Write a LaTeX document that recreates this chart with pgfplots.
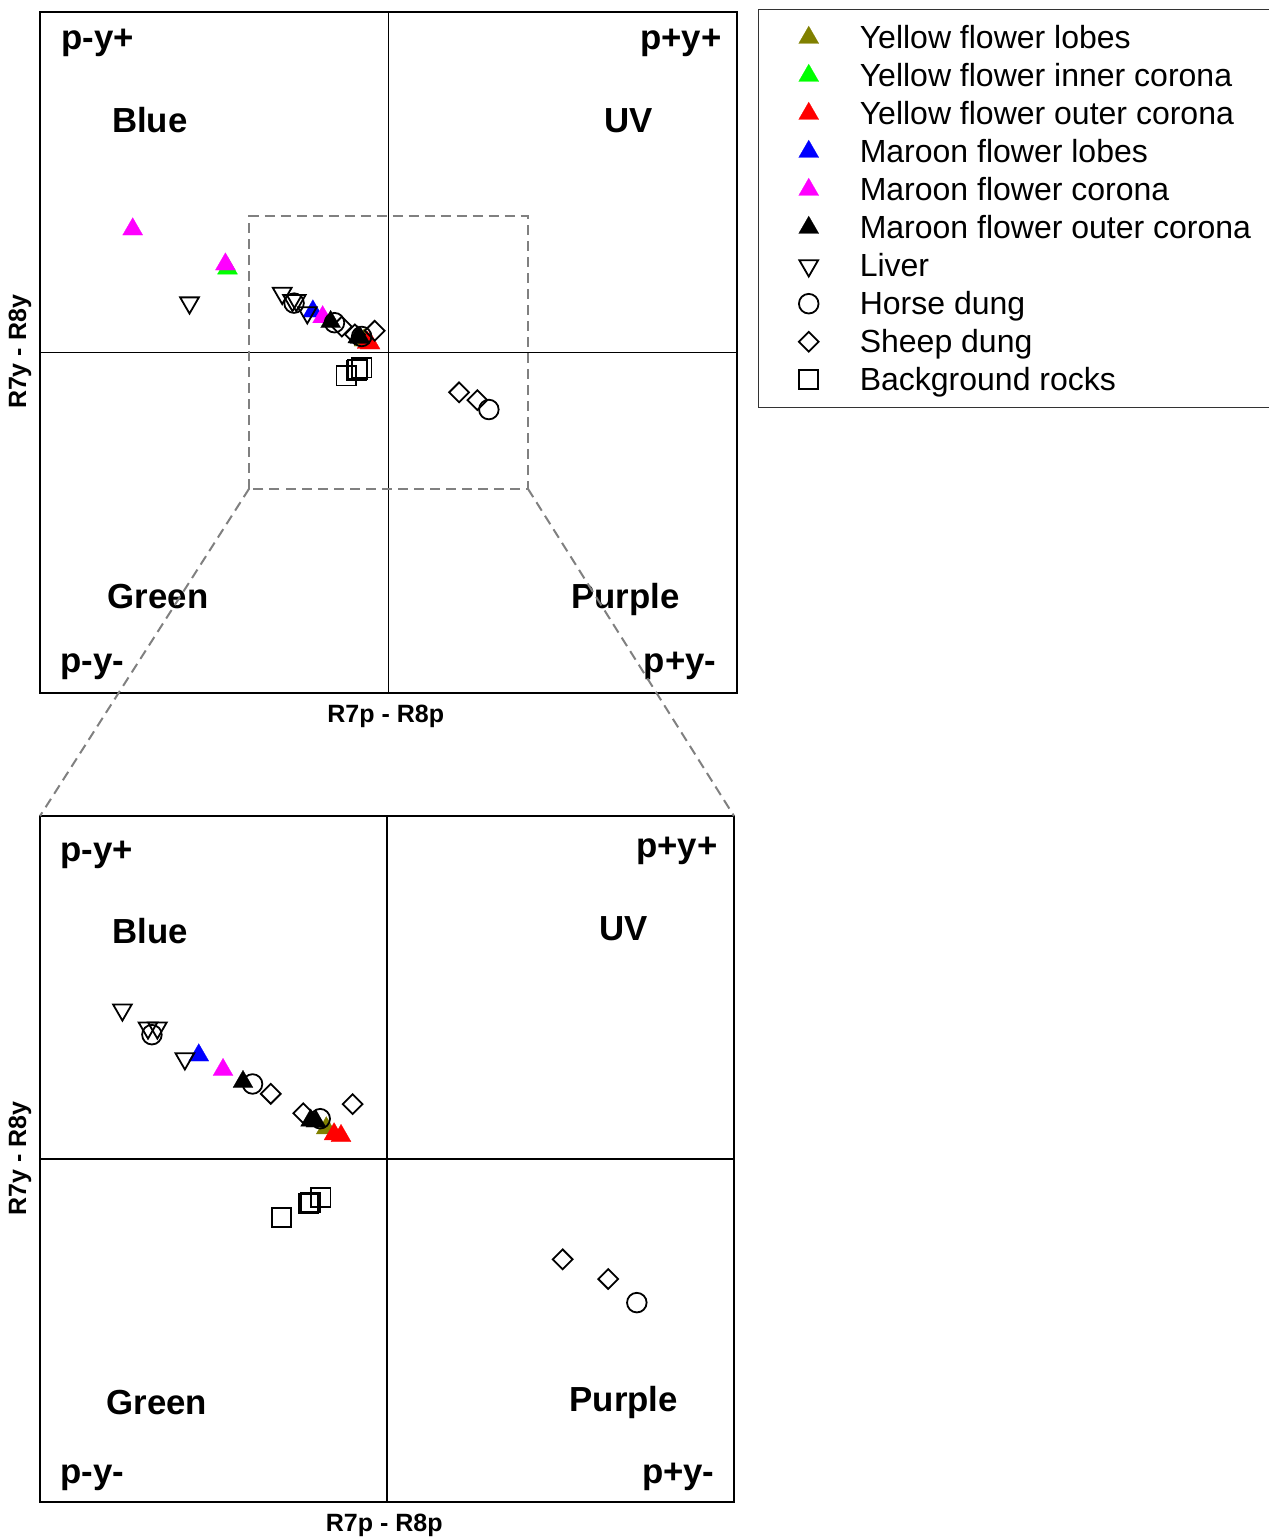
\documentclass[border=0pt]{standalone}
\usepackage{fontspec}
\setmainfont{Liberation Sans}
\usepackage{pgfplots}
\pgfplotsset{compat=1.18}
\usepackage{pgfplotstable}

\definecolor{cOlive}{RGB}{128,128,0}
\definecolor{cGreen}{RGB}{0,255,0}
\definecolor{cRed}{RGB}{255,0,0}
\definecolor{cBlue}{RGB}{0,0,255}
\definecolor{cMag}{RGB}{255,0,255}
\definecolor{cGray}{RGB}{128,128,128}

\pgfplotstableread{
x y
-0.070 0.036
}\ylobes
\pgfplotstableread{
x y
-0.462 0.247
}\yinner
\pgfplotstableread{
x y
-0.061 0.029
-0.053 0.027
}\youter
\pgfplotstableread{
x y
-0.217 0.121
}\mlobes
\pgfplotstableread{
x y
-0.734 0.362
-0.468 0.259
-0.189 0.104
}\mcorona
\pgfplotstableread{
x y
-0.166 0.090
-0.088 0.045
-0.082 0.044
}\mouter
\pgfplotstableread{
x y
-0.571 0.146
-0.305 0.174
-0.2755 0.153
-0.2647 0.153
-0.233 0.117
}\liver
\pgfplotstableread{
x y
-0.271 0.145
-0.155 0.0875
-0.077 0.047
0.288 -0.1675
}\horse
\pgfplotstableread{
x y
-0.134 0.076
-0.0965 0.0533
-0.0396 0.064
0.2025 -0.117
0.255 -0.140
}\sheep
\pgfplotstableread{
x y
-0.1214 -0.0685
-0.0907 -0.0517
-0.0884 -0.0505
-0.0761 -0.0451
}\rocks

\pgfplotsset{
  pt/.style={only marks,
    legend image code/.code={\draw[mark repeat=2,mark phase=2,##1] plot coordinates {(0pt,0pt)(8pt,0pt)(16pt,0pt)};}},
  ftri/.style={pt, mark=triangle*, mark size=5.8pt, color=#1, mark options={solid, line width=0.1pt}},
  sLiver/.style={pt, mark=triangle, mark size=5.4pt, color=black, mark options={solid, rotate=180, line width=0.9pt}},
  sHorse/.style={pt, mark=o, mark size=4.9pt, color=black, mark options={solid, line width=0.9pt}},
  sSheep/.style={pt, mark=square, mark size=3.5pt, color=black, mark options={solid, rotate=45, line width=0.9pt}},
  sRock/.style={pt, mark=square, mark size=4.8pt, color=black, mark options={solid, line width=0.9pt}},
  quad/.style={scale only axis, axis line style={line width=1.4pt},
    xmin=-#1, xmax=#1, ymin=-#1, ymax=#1, xtick=\empty, ytick=\empty,
    xlabel={R7p - R8p}, ylabel={R7y - R8y},
    label style={font=\bfseries\fontsize{12.5}{14}\selectfont},
    xlabel style={at={(axis description cs:0.496,-0.0345)}, anchor=center},
    ylabel style={at={(axis description cs:-0.0287,0.5007)}, anchor=center},
  },
}
\newcommand{\ql}{\bfseries\fontsize{17.4}{20}\selectfont}
\tikzset{qlab/.style={font=\ql, inner sep=0pt}}

\begin{document}
\begin{tikzpicture}
\path[use as bounding box] (0,0) rectangle (634.5pt,769.5pt);

% ---------------- top (full) axis ----------------
\begin{axis}[quad=1, width=348.5pt, height=340.5pt, at={(20pt,423pt)}, anchor=south west,
  legend cell align=left,
  legend style={at={(1,1)}, anchor=north west, xshift=10.5pt, yshift=1.5pt,
    draw=black!80, line width=0.7pt, inner xsep=20pt, inner ysep=5.5pt, row sep=2pt,
    font=\fontsize{16}{18}\selectfont,
    nodes={text height=14pt, text depth=3pt, inner sep=0pt},
    /tikz/every odd column/.append style={column sep=20.5pt}},
]
\draw[line width=0.6pt] (axis cs:0,-1) -- (axis cs:0,1);
\draw[line width=0.6pt] (axis cs:-1,0) -- (axis cs:1,0);
\draw[cGray, line width=1pt, dash pattern=on 5pt off 3pt] (axis cs:-0.4,-0.4) rectangle (axis cs:0.4,0.4);
\coordinate (zl) at (axis cs:-0.4,-0.4);
\coordinate (zr) at (axis cs:0.4,-0.4);

\addplot[ftri=cOlive] table {\ylobes};
\addlegendentry{Yellow flower lobes}
\addplot[ftri=cGreen] table {\yinner};
\addlegendentry{Yellow flower inner corona}
\addplot[ftri=cRed] table {\youter};
\addlegendentry{Yellow flower outer corona}
\addplot[ftri=cBlue] table {\mlobes};
\addlegendentry{Maroon flower lobes}
\addplot[ftri=cMag] table {\mcorona};
\addlegendentry{Maroon flower corona}
\addplot[ftri=black] table {\mouter};
\addlegendentry{Maroon flower outer corona}
\addplot[sLiver] table {\liver};
\addlegendentry{Liver}
\addplot[sHorse] table {\horse};
\addlegendentry{Horse dung}
\addplot[sSheep] table {\sheep};
\addlegendentry{Sheep dung}
\addplot[sRock] table {\rocks};
\addlegendentry{Background rocks}

\node[qlab, anchor=base west] at (rel axis cs:0.0300,0.9456) {p-y+};
\node[qlab, anchor=base east] at (rel axis cs:0.9785,0.9456) {p+y+};
\node[qlab, anchor=base west] at (rel axis cs:0.103,0.823) {Blue};
\node[qlab, anchor=base] at (rel axis cs:0.8443,0.823) {UV};
\node[qlab, anchor=base west] at (rel axis cs:0.0966,0.1240) {Green};
\node[qlab, anchor=base west] at (rel axis cs:0.762,0.1240) {Purple};
\node[qlab, anchor=base west] at (rel axis cs:0.0290,0.0294) {p-y-};
\node[qlab, anchor=base east] at (rel axis cs:0.9709,0.0294) {p+y-};
\end{axis}

% ---------------- bottom (zoomed) axis ----------------
\begin{axis}[quad=0.4, width=347pt, height=343pt, at={(20pt,18.5pt)}, anchor=south west,
  restrict x to domain=-0.41:0.41]
\draw[line width=0.6pt] (axis cs:0,-0.4) -- (axis cs:0,0.4);
\draw[line width=0.6pt] (axis cs:-0.4,0) -- (axis cs:0.4,0);
\coordinate (bl) at (rel axis cs:0,1);
\coordinate (br) at (rel axis cs:1,1);

\addplot[ftri=cOlive] table {\ylobes};
\addplot[ftri=cRed] table {\youter};
\addplot[ftri=cBlue] table {\mlobes};
\addplot[ftri=cMag] table {\mcorona};
\addplot[ftri=black] table {\mouter};
\addplot[sLiver] table {\liver};
\addplot[sHorse] table {\horse};
\addplot[sSheep] table {\sheep};
\addplot[sRock] table {\rocks};

\node[qlab, anchor=base west] at (rel axis cs:0.0288,0.9344) {p-y+};
\node[qlab, anchor=base east] at (rel axis cs:0.977,0.940) {p+y+};
\node[qlab, anchor=base west] at (rel axis cs:0.104,0.8140) {Blue};
\node[qlab, anchor=base] at (rel axis cs:0.8415,0.8190) {UV};
\node[qlab, anchor=base west] at (rel axis cs:0.0955,0.1275) {Green};
\node[qlab, anchor=base west] at (rel axis cs:0.7627,0.1320) {Purple};
\node[qlab, anchor=base west] at (rel axis cs:0.0288,0.0277) {p-y-};
\node[qlab, anchor=base east] at (rel axis cs:0.9726,0.0277) {p+y-};
\end{axis}

\draw[cGray, line width=1pt, dash pattern=on 5pt off 3pt] (zl) -- (bl);
\draw[cGray, line width=1pt, dash pattern=on 5pt off 3pt] (zr) -- (br);
\end{tikzpicture}
\end{document}
